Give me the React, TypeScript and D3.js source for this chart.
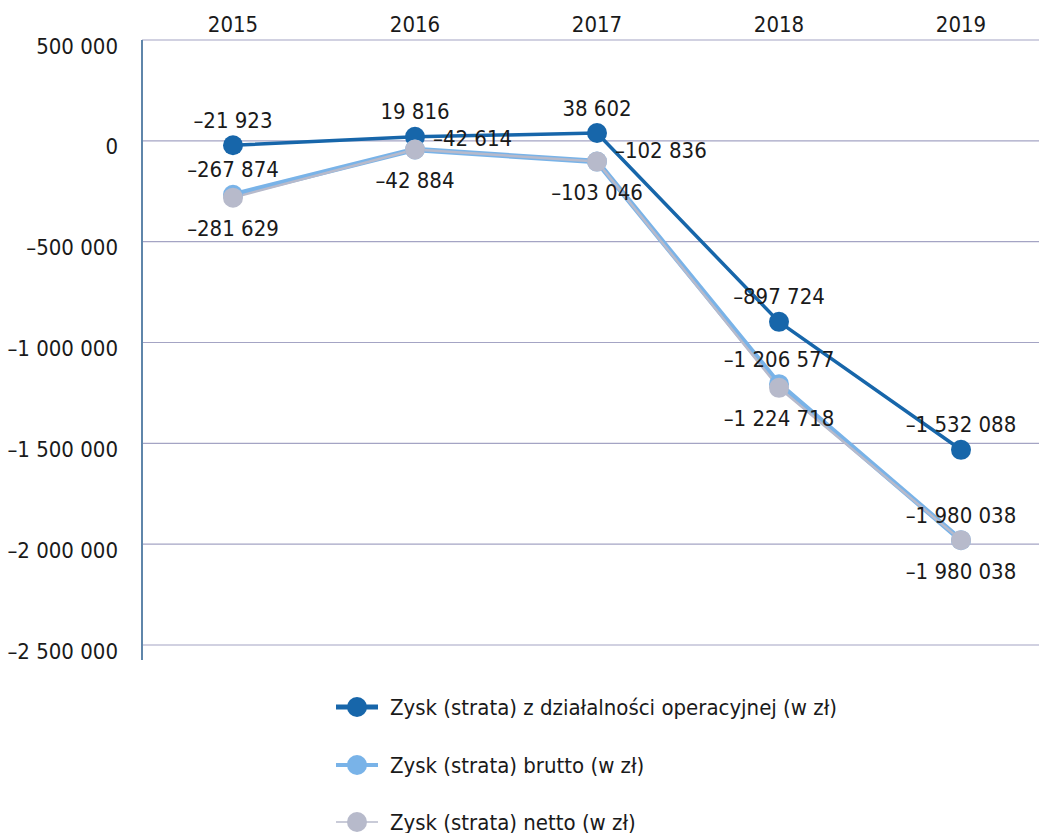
import React from "react";
import * as d3 from "d3";

// data
const years = ["2015", "2016", "2017", "2018", "2019"];
const operacyjny = [-21923, 19816, 38602, -897724, -1532088];
const brutto = [-267874, -42614, -102836, -1206577, -1980038];
const netto = [-281629, -42884, -103046, -1224718, -1980038];
const yTicks = [500000, 0, -500000, -1000000, -1500000, -2000000, -2500000];
const legendLabels = [
  "Zysk (strata) z działalności operacyjnej (w zł)",
  "Zysk (strata) brutto (w zł)",
  "Zysk (strata) netto (w zł)",
];

// where each value label sits relative to its point
const operacyjnyLabelSide = ["top", "top", "top", "top", "top"];
const bruttoLabelSide = ["top", "right", "right", "top", "top"];
const nettoLabelSide = ["bottom", "bottom", "bottom", "bottom", "bottom"];

const FONT = "'Liberation Sans Narrow', 'DejaVu Sans Condensed', 'Roboto Condensed', Roboto, sans-serif";

const pl = d3.formatLocale({
  decimal: ",",
  thousands: " ",
  grouping: [3],
  currency: ["", " zł"],
  minus: "\u2013",
});
const fmt = pl.format(",d");

const labelOffset: Record<string, { dx: number; dy: number; anchor: string }> = {
  top: { dx: 0, dy: -25, anchor: "middle" },
  right: { dx: 18, dy: -11, anchor: "start" },
  bottom: { dx: 0, dy: 31, anchor: "middle" },
};

export default function App() {
  const width = 1039;
  const height = 833;

  const x = d3.scaleBand().domain(years).range([142, 142 + 182 * 5]);
  const y = d3.scaleLinear().domain([500000, -2500000]).range([40, 645]);
  const cx = (yr: string) => (x(yr) as number) + x.bandwidth() / 2;

  const line = d3
    .line<number>()
    .x((_, i) => cx(years[i]))
    .y((d) => y(d));

  const series = [
    { values: operacyjny, color: "#1766aa", width: 3.5, r: 10, side: operacyjnyLabelSide },
    { values: brutto, color: "#79b3e8", width: 5.5, r: 10, side: bruttoLabelSide },
    { values: netto, color: "#b7bacb", width: 2.5, r: 10, side: nettoLabelSide },
  ];

  const legendY = [707, 765, 822];
  const legendLine = [5, 4, 1.5];

  return (
    <svg
      width={width}
      height={height}
      style={{ position: "absolute", left: 0, top: 0, background: "#fff" }}
      fontFamily={FONT}
    >
      {/* gridlines */}
      {yTicks.map((t) => (
        <line
          key={"g" + t}
          x1={142}
          x2={width}
          y1={y(t)}
          y2={y(t)}
          stroke="#a4a4c4"
          strokeWidth={1.2}
        />
      ))}
      {/* y axis */}
      <line x1={142} x2={142} y1={40} y2={660} stroke="#5f86aa" strokeWidth={2} />
      {yTicks.map((t) => (
        <text
          key={"t" + t}
          x={118}
          y={y(t) + 6}
          textAnchor="end"
          dominantBaseline="central"
          fontSize={22}
          fill="#1a1a1a"
        >
          {fmt(t)}
        </text>
      ))}
      {/* years on top */}
      {years.map((yr) => (
        <text
          key={yr}
          x={cx(yr)}
          y={24}
          textAnchor="middle"
          dominantBaseline="central"
          fontSize={22}
          fill="#1a1a1a"
        >
          {yr}
        </text>
      ))}
      {/* lines */}
      {series.map((s, si) => (
        <path
          key={"l" + si}
          d={line(s.values) || ""}
          fill="none"
          stroke={s.color}
          strokeWidth={s.width}
          strokeLinejoin="round"
        />
      ))}
      {/* points */}
      {series.map((s, si) =>
        s.values.map((v, i) => (
          <circle key={"p" + si + i} cx={cx(years[i])} cy={y(v)} r={s.r} fill={s.color} />
        ))
      )}
      {/* value labels */}
      {series.map((s, si) =>
        s.values.map((v, i) => {
          const o = labelOffset[s.side[i]];
          return (
            <text
              key={"v" + si + i}
              x={cx(years[i]) + o.dx}
              y={y(v) + o.dy}
              textAnchor={o.anchor}
              dominantBaseline="central"
              fontSize={22}
              fill="#1a1a1a"
            >
              {fmt(v)}
            </text>
          );
        })
      )}
      {/* legend */}
      {series.map((s, si) => (
        <g key={"lg" + si} transform={`translate(0,${legendY[si]})`}>
          <line x1={336} x2={378} y1={0} y2={0} stroke={s.color} strokeWidth={legendLine[si]} />
          <circle cx={357} cy={0} r={10} fill={s.color} />
          <text x={390} y={0} dominantBaseline="central" fontSize={22} fill="#1a1a1a">
            {legendLabels[si]}
          </text>
        </g>
      ))}
    </svg>
  );
}
